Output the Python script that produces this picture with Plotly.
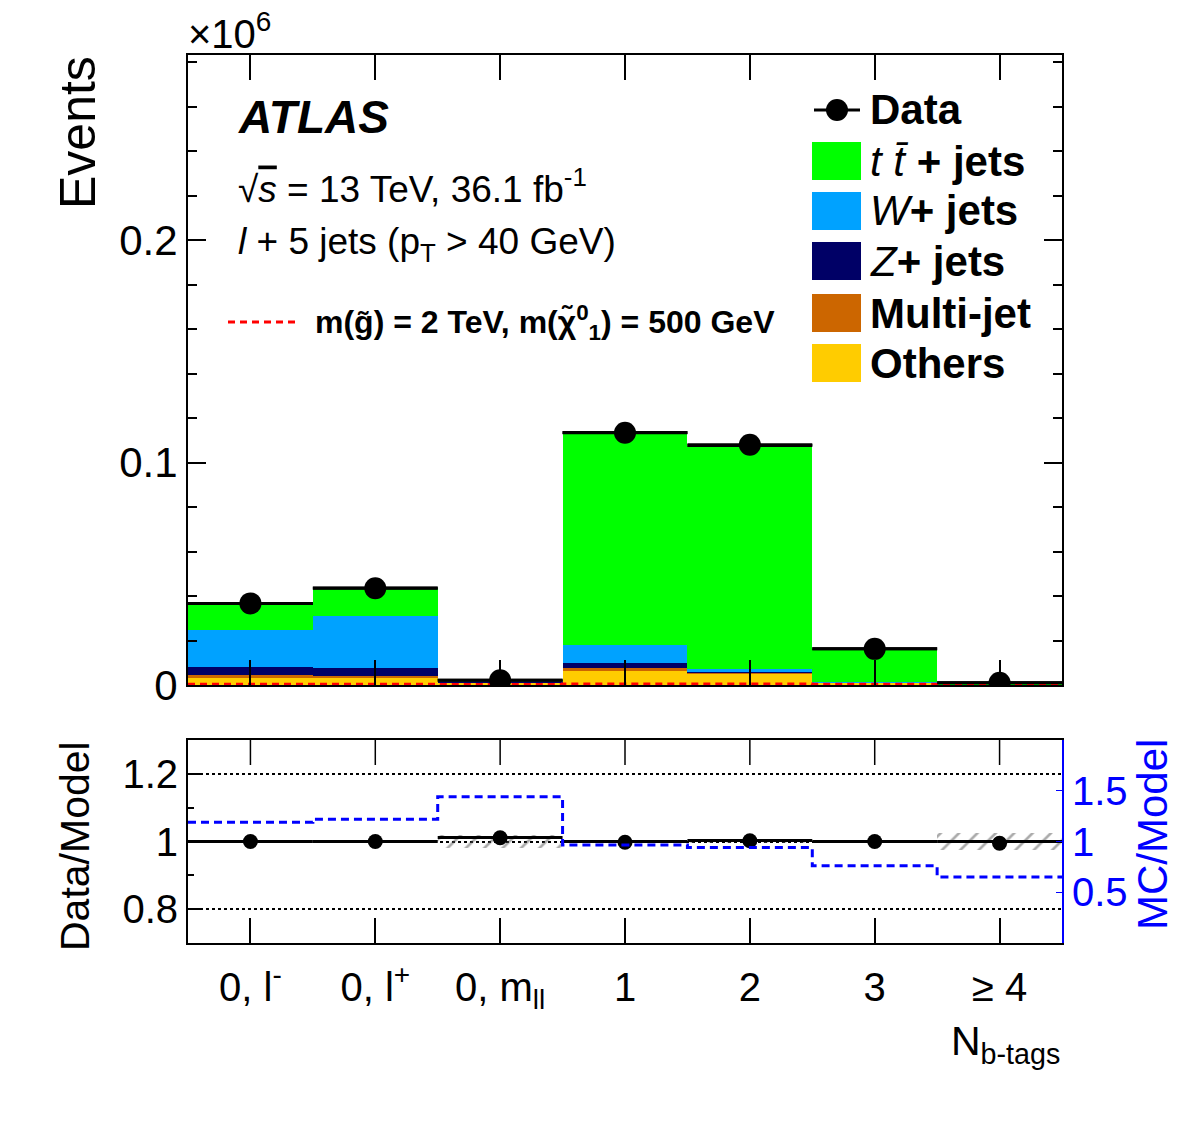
import numpy as np
import plotly.graph_objects as go

# ---------------- data ----------------
categories = ["0, l<sup>-</sup>", "0, l<sup>+</sup>", "0, m<sub>ll</sub>", "1", "2", "3", "≥ 4"]
others   = [3000, 3000, 1000, 6300, 5100, 1000, 200]
multijet = [1400, 1200, 100, 1400, 400, 100, 0]
zjets    = [3700, 3500, 600, 2200, 500, 50, 0]
wjets    = [16700, 23200, 100, 8100, 1300, 100, 0]
ttbar    = [11800, 12700, 300, 95500, 100400, 15000, 800]
data     = [36700, 43500, 2130, 113400, 108000, 16250, 1000]
signal   = [300, 300, 200, 400, 400, 350, 250]

ratio_data  = [1.0, 1.0, 1.011, 0.998, 1.002, 1.0, 0.995]
ratio_model = [1.0, 1.0, 1.012, 1.0, 1.003, 1.0, 1.0]
ratio_unc   = [0.004, 0.004, 0.018, 0.003, 0.003, 0.004, 0.025]
mc_model    = [1.19, 1.22, 1.44, 0.965, 0.94, 0.76, 0.65]

SCALE = 1e6
FONT = "Liberation Sans, Arial, Helvetica, sans-serif"

n = len(categories)
xc = np.arange(n)
edges = np.arange(n + 1) - 0.5

def step(vals):
    return list(vals) + [vals[-1]]

def segments(vals):
    xs, ys = [], []
    for i, v in enumerate(vals):
        xs += [edges[i], edges[i + 1], None]
        ys += [v, v, None]
    return xs, ys

total = np.array(others) + np.array(multijet) + np.array(zjets) + np.array(wjets) + np.array(ttbar)

# pixel layout helpers
W, H = 1182, 1123
L, R, T, B = 188, 1062, 55, 943
def px(x):
    return (x - L) / (R - L)
def py(y):
    return (B - y) / (B - T)

fig = go.Figure()

stack = [("Others", others, "#ffcc00"),
         ("Multi-jet", multijet, "#cc6600"),
         ("Z+jets", zjets, "#000066"),
         ("W+jets", wjets, "#00a2ff"),
         ("ttbar", ttbar, "#00ff00")]
for name, vals, col in stack:
    fig.add_trace(go.Bar(x=xc, y=np.array(vals) / SCALE, width=1.0, name=name,
                         marker=dict(color=col, line=dict(width=0)),
                         xaxis="x", yaxis="y", showlegend=False))

# total outline (top edges only)
sx, sy = segments(list(total / SCALE))
fig.add_trace(go.Scatter(x=sx, y=sy, mode="lines", line=dict(color="black", width=3),
                         xaxis="x", yaxis="y", showlegend=False))
# signal
fig.add_trace(go.Scatter(x=edges, y=np.array(step(signal)) / SCALE, mode="lines",
                         line=dict(color="#ff0000", width=3, shape="hv", dash="7px,5px"),
                         xaxis="x", yaxis="y", showlegend=False))
# data
fig.add_trace(go.Scatter(x=xc, y=np.array(data) / SCALE, mode="markers",
                         marker=dict(color="black", size=22),
                         error_x=dict(type="constant", value=0.5, color="black", thickness=3, width=0),
                         xaxis="x", yaxis="y", showlegend=False))

# ---- ratio panel ----
unc = np.array(ratio_unc)
fig.add_trace(go.Bar(x=xc, y=2 * unc, base=1 - unc, width=1.0,
                     marker=dict(color="rgba(0,0,0,0)", line=dict(width=0),
                                 pattern=dict(shape="/", fgcolor="#555555", size=13,
                                              solidity=0.2, fillmode="overlay")),
                     xaxis="x2", yaxis="y2", showlegend=False))
rx, ry = segments(ratio_model)
fig.add_trace(go.Scatter(x=rx, y=ry, mode="lines", line=dict(color="black", width=3),
                         xaxis="x2", yaxis="y2", showlegend=False))
fig.add_trace(go.Scatter(x=xc, y=ratio_data, mode="markers",
                         marker=dict(color="black", size=15),
                         xaxis="x2", yaxis="y2", showlegend=False))
fig.add_trace(go.Scatter(x=edges, y=step(mc_model), mode="lines",
                         line=dict(color="#0000ff", width=3, shape="hv", dash="8px,5px"),
                         xaxis="x2", yaxis="y3", showlegend=False))

main_bottom = py(685)
ratio_top = py(740)

axis_common = dict(showline=True, linecolor="black", linewidth=2, ticks="inside",
                   tickcolor="black", tickwidth=1.5, zeroline=False, showgrid=False)

fig.update_layout(
    width=W, height=H, autosize=False,
    margin=dict(l=L, r=W - R, t=T, b=H - B),
    paper_bgcolor="white", plot_bgcolor="white",
    barmode="stack", bargap=0,
    font=dict(family=FONT, color="black"),
    xaxis=dict(domain=[0, 1], anchor="y", range=[-0.5, n - 0.5], tickvals=list(xc),
               showticklabels=False, ticklen=25, mirror="ticks", **axis_common),
    yaxis=dict(domain=[main_bottom, 1], anchor="x", range=[0, 0.2833], dtick=0.1,
               ticklen=18, mirror="ticks", tickfont=dict(size=42),
               tickformat="~g",
               minor=dict(dtick=0.02, ticklen=9, ticks="inside", tickcolor="black", tickwidth=1.5),
               **axis_common),
    xaxis2=dict(domain=[0, 1], anchor="y2", range=[-0.5, n - 0.5], tickvals=list(xc),
                ticktext=categories, ticklen=25, mirror=True, tickfont=dict(size=40),
                ticklabelstandoff=8, **axis_common),
    yaxis2=dict(domain=[0, ratio_top], anchor="x2", range=[0.7, 1.3], tickvals=[0.8, 1.0, 1.2],
                ticktext=["0.8", "1", "1.2"], ticklen=12, mirror=False, tickfont=dict(size=40),
                minor=dict(tickvals=[0.9, 1.1], ticklen=6, ticks="inside", tickcolor="black"),
                showline=True, linecolor="black", linewidth=2, ticks="inside",
                tickcolor="black", tickwidth=1.5, zeroline=False,
                showgrid=True, gridcolor="black", gridwidth=1.5, griddash="dot"),
    yaxis3=dict(overlaying="y2", side="right", anchor="x2", range=[0, 2.0],
                tickvals=[0.5, 1.0, 1.5], ticktext=["0.5", "1", "1.5"],
                showline=True, linecolor="#0000ff", linewidth=2, ticks="inside",
                tickcolor="#0000ff", ticklen=6, tickfont=dict(size=40, color="#0000ff"),
                showgrid=False, zeroline=False),
)

ann = []
def text(x, y, s, size, xanchor="left", yanchor="middle", color="black", angle=0):
    ann.append(dict(x=px(x), y=py(y), xref="paper", yref="paper", text=s, showarrow=False,
                    xanchor=xanchor, yanchor=yanchor, textangle=angle,
                    font=dict(size=size, color=color, family=FONT)))

text(186, 58, "×10<sup>6</sup>", 40, yanchor="bottom")
text(78, 132, "Events", 50, xanchor="center", angle=-90)
text(75, 846, "Data/Model", 41, xanchor="center", angle=-90)
text(1152, 835, "MC/Model", 42, xanchor="center", angle=-90, color="#0000ff")
text(1062, 1044, "N<sub>b-tags</sub>", 41, xanchor="right")

text(236, 117, "<b><i>ATLAS</i></b>", 46)
text(236, 186, "√<span style='text-decoration:overline'><i>s</i></span> = 13 TeV, 36.1 fb<sup>-1</sup>", 37)
text(236, 244, "<i>l</i> + 5 jets (p<sub>T</sub> > 40 GeV)", 37)
text(313, 322, "<b>m(g̃) = 2 TeV, m(χ̃<sup>0</sup><sub>1</sub>) = 500 GeV</b>", 32)

legend_items = [("<i>t</i> <i>t̄</i> <b>+ jets</b>", "#00ff00", 161),
                ("<i>W</i><b>+ jets</b>", "#00a2ff", 211),
                ("<i>Z</i><b>+ jets</b>", "#000066", 261),
                ("<b>Multi-jet</b>", "#cc6600", 313),
                ("<b>Others</b>", "#ffcc00", 363)]
shapes = []
for label, col, yc in legend_items:
    shapes.append(dict(type="rect", xref="paper", yref="paper",
                       x0=px(812), x1=px(861), y0=py(yc + 19), y1=py(yc - 19),
                       fillcolor=col, line=dict(width=0)))
    text(868, yc, label, 42)
# data legend
shapes.append(dict(type="line", xref="paper", yref="paper", x0=px(814), x1=px(860),
                   y0=py(110), y1=py(110), line=dict(color="black", width=3)))
shapes.append(dict(type="circle", xref="paper", yref="paper", xsizemode="pixel", ysizemode="pixel",
                   xanchor=px(837), yanchor=py(110), x0=-11, x1=11, y0=-11, y1=11,
                   fillcolor="black", line=dict(color="black", width=0)))
text(868, 110, "<b>Data</b>", 42)
# signal legend line
shapes.append(dict(type="line", xref="paper", yref="paper", x0=px(228), x1=px(297),
                   y0=py(322), y1=py(322), line=dict(color="#ff0000", width=3, dash="7px,5px")))
# inside ticks along the top edge of the ratio panel (at the category positions)
tick_frac = 25 / (B - 740)
for xv in xc:
    shapes.append(dict(type="line", xref="x2", yref="y2 domain", x0=xv, x1=xv,
                       y0=1, y1=1 - tick_frac, line=dict(color="black", width=1.5)))

fig.update_layout(annotations=ann, shapes=shapes)

fig.write_html("out.html")
